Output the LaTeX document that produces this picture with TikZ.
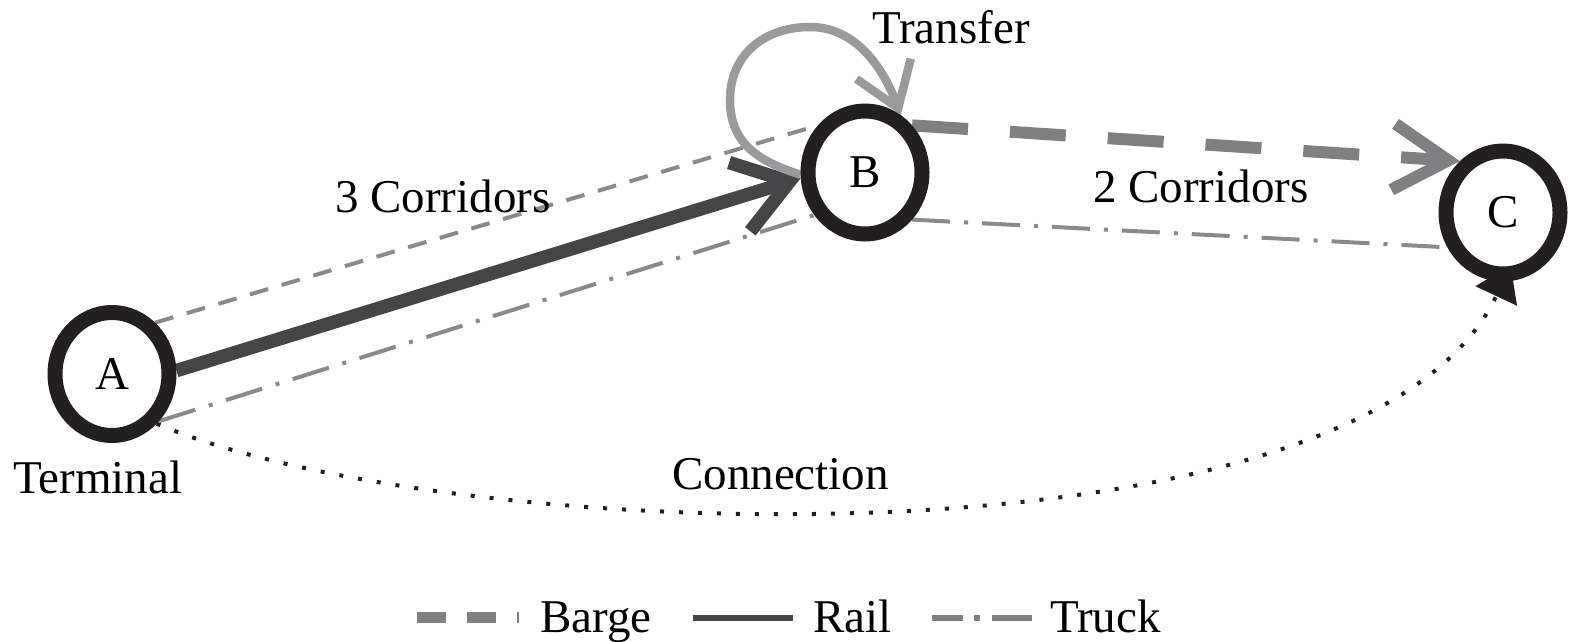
\documentclass[tikz,border=0pt]{standalone}
\usepackage{fontspec}
\setmainfont{Liberation Serif}
\usetikzlibrary{arrows.meta,backgrounds,shapes.geometric}
\definecolor{ringcol}{HTML}{231F20}
\definecolor{railcol}{HTML}{454547}
\definecolor{bargecol}{HTML}{808083}
\definecolor{thincol}{HTML}{8A8A8C}
\definecolor{loopcol}{HTML}{9A9A9C}
\tikzset{
  txt/.style={font=\fontsize{47}{56}\selectfont, inner sep=0pt},
  terminal/.style={ellipse, draw=ringcol, line width=15pt, fill=white,
    minimum width=114pt, minimum height=123pt, inner sep=0pt, txt},
  rail/.style={draw=railcol, line width=13.5pt, -{Straight Barb[length=52pt,width=72pt]}},
  barge/.style={draw=bargecol, line width=12pt, dash pattern=on 56pt off 42pt,
    -{Straight Barb[length=55pt,width=66pt]}},
  bargethin/.style={draw=thincol, line width=4pt, dash pattern=on 19pt off 14pt},
  truck/.style={draw=thincol, line width=4pt, dash pattern=on 38pt off 14pt on 4pt off 14pt},
  transfer/.style={draw=loopcol, line width=8.5pt, -{Straight Barb[length=42pt,width=58pt]}},
  connection/.style={draw=ringcol, line width=4pt, dash pattern=on 4pt off 15pt,
    -{Triangle[length=34pt,width=45pt]}},
  bargekey/.style={draw=bargecol, line width=11pt, dash pattern=on 29pt off 21pt},
  railkey/.style={draw=railcol, line width=6pt},
  truckkey/.style={draw=bargecol, line width=6pt, dash pattern=on 31pt off 11pt on 6pt off 12pt on 40pt off 20pt},
}
\begin{document}
\begin{tikzpicture}[x=1pt,y=-1pt]
\useasboundingbox (0,0) rectangle (1571,641);

% terminals
\node[terminal] (A) at (112,374) {A};
\node[terminal] (B) at (865,172.5) {B};
\node[terminal] (C) at (1503,212.5) {C};

% way points of the transfer loop
\coordinate (loopL) at (730,100);
\coordinate (loopT) at (810,27);

\begin{scope}[on background layer]
  % corridors A -> B
  \draw[bargethin] (A.50) -- (B.135);
  \draw[truck] (A.-45) -- (B.220);
  \draw[rail] (A.3) -- (B.185);
  % corridors B -> C
  \draw[barge] (B.45) -- (C.130);
  \draw[truck] (B.-45) -- (C.212);
  % transfer at B
  \draw[transfer] (B.182) .. controls (761,162) and (730,145) .. (loopL)
        .. controls (730,54) and (765,27) .. (loopT)
        .. controls (857,27) and (884,70) .. (B.58);
  % connection A -> C
  \draw[connection, shorten >=-18pt] (A.-48) .. controls (443,546) and (1363,580) .. (C.-90);
\end{scope}

% labels
\node[txt, anchor=base west] (lblTransfer) at (872,43) {Transfer};
\node[txt, anchor=base west] (lblThree) at (335,212) {3 Corridors};
\node[txt, anchor=base west] (lblTwo) at (1093,202) {2 Corridors};
\node[txt, anchor=base west] (lblTerminal) at (13,493) {Terminal};
\node[txt, anchor=base west] (lblConnection) at (672,489) {Connection};

% legend
\node[txt, anchor=base west] (keyBarge) at (540,632) {Barge};
\node[txt, anchor=base west] (keyRail) at (813,632) {Rail};
\node[txt, anchor=base west] (keyTruck) at (1050,632) {Truck};
\draw[bargekey] (417,617) -- (519,617);
\draw[railkey] (693,618) -- (793,618);
\draw[truckkey] (932,618) -- (1032,618);
\end{tikzpicture}
\end{document}
